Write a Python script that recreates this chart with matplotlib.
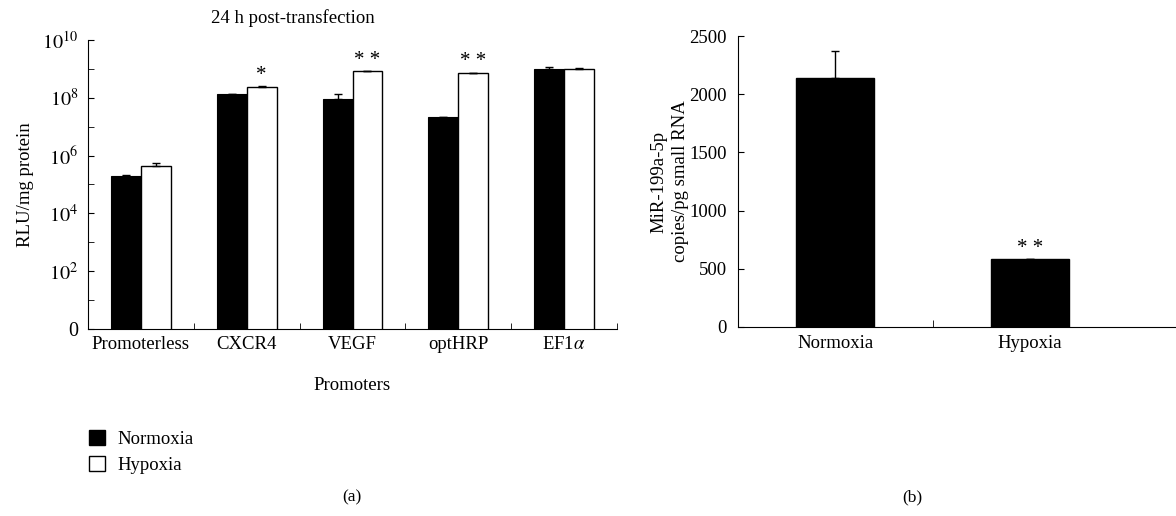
import numpy as np
import matplotlib
matplotlib.use("Agg")
import matplotlib.pyplot as plt
from matplotlib.patches import Patch
from matplotlib.ticker import FixedLocator, FixedFormatter

plt.rcParams['font.family'] = ['Liberation Serif', 'DejaVu Serif']
plt.rcParams['mathtext.fontset'] = 'stix'
plt.rcParams['font.size'] = 13.5

# panel (a): luciferase activity, RLU/mg protein
promoters = ['Promoterless', 'CXCR4', 'VEGF', 'optHRP', 'EF1$\\alpha$']
normoxia = [2.0e5, 1.3e8, 9.3e7, 2.1e7, 9.6e8]
normoxia_err = [0.1e5, 0.05e8, 3.7e7, 0.1e7, 1.6e8]
hypoxia = [4.4e5, 2.4e8, 8.3e8, 7.1e8, 1.0e9]
hypoxia_err = [1.0e5, 0.2e8, 0.2e8, 0.3e8, 0.05e9]
stars_a = ['', '*', '**', '**', '']

# panel (b): miR-199a-5p
conditions = ['Normoxia', 'Hypoxia']
mir = [2135, 580]
mir_err = [235, 8]
stars_b = ['', '**']

fs = 13.5
fig = plt.figure(figsize=(11.76, 5.16), dpi=100)

ax = fig.add_axes([0.0748, 0.3624, 0.4499, 0.5601])
x = np.arange(len(promoters))
w = 0.283
ax.bar(x - w / 2, normoxia, w, color='black', edgecolor='black', linewidth=0.8,
       yerr=[np.zeros(5), normoxia_err], error_kw=dict(ecolor='black', elinewidth=1, capsize=3, capthick=1))
ax.bar(x + w / 2, hypoxia, w, color='white', edgecolor='black', linewidth=1,
       yerr=[np.zeros(5), hypoxia_err], error_kw=dict(ecolor='black', elinewidth=1, capsize=3, capthick=1))
for i in range(len(promoters)):
    if stars_a[i]:
        ax.text(x[i] + w / 2, (hypoxia[i] + hypoxia_err[i]) * 1.1, ' '.join(stars_a[i]),
                ha='center', va='bottom', fontsize=15)
ax.set_yscale('log')
ax.set_ylim(1, 1e10)
ax.set_xlim(-0.5, 4.5)
ax.yaxis.set_major_locator(FixedLocator([1, 1e2, 1e4, 1e6, 1e8, 1e10]))
ax.yaxis.set_major_formatter(FixedFormatter(['0', '$10^{2}$', '$10^{4}$', '$10^{6}$', '$10^{8}$', '$10^{10}$']))
ax.yaxis.set_minor_locator(FixedLocator([1e1, 1e3, 1e5, 1e7, 1e9]))
ax.yaxis.set_minor_formatter(FixedFormatter([]))
ax.set_xticks(x)
ax.set_xticklabels(promoters)
ax.set_xticks(np.arange(0.5, 5, 1), minor=True)
ax.tick_params(axis='x', which='major', length=0, pad=5, labelsize=fs)
ax.tick_params(axis='x', which='minor', direction='in', length=4)
ax.tick_params(axis='y', which='both', direction='in', length=4, labelsize=fs + 1, pad=7)
for s in ['top', 'right']:
    ax.spines[s].set_visible(False)
ax.set_ylabel('RLU/mg protein', fontsize=fs, labelpad=6)
ax.set_xlabel('Promoters', fontsize=fs, labelpad=17)
fig.text(0.249, 0.965, '24 h post-transfection', ha='center', va='center', fontsize=fs)

handles = [Patch(facecolor='black', edgecolor='black'), Patch(facecolor='white', edgecolor='black')]
fig.legend(handles, ['Normoxia', 'Hypoxia'], loc='upper left', bbox_to_anchor=(0.061, 0.2),
           frameon=False, fontsize=fs, handlelength=0.85, handleheight=0.85, handletextpad=0.7,
           labelspacing=0.45)
fig.text(0.299, 0.037, '(a)', ha='center', va='center', fontsize=12.5)

bx = fig.add_axes([0.6276, 0.3663, 0.3724, 0.5639])
xb = np.arange(len(conditions))
bx.bar(xb, mir, 0.4, color='black', edgecolor='black',
       yerr=[np.zeros(2), mir_err], error_kw=dict(ecolor='black', elinewidth=1, capsize=3, capthick=1))
for i in range(len(conditions)):
    if stars_b[i]:
        bx.text(xb[i], mir[i] + mir_err[i] + 5, ' '.join(stars_b[i]), ha='center', va='bottom', fontsize=15)
bx.set_ylim(0, 2500)
bx.set_xlim(-0.5, 1.75)
bx.set_yticks([0, 500, 1000, 1500, 2000, 2500])
bx.set_xticks(xb)
bx.set_xticklabels(conditions)
bx.set_xticks([0.5], minor=True)
bx.tick_params(axis='x', which='major', length=0, pad=6, labelsize=fs)
bx.tick_params(axis='x', which='minor', direction='in', length=5)
bx.tick_params(axis='y', direction='in', length=4, labelsize=fs, pad=8)
for s in ['top', 'right']:
    bx.spines[s].set_visible(False)
bx.set_ylabel('MiR-199a-5p\ncopies/pg small RNA', fontsize=fs, labelpad=0, linespacing=1.4)
fig.text(0.776, 0.037, '(b)', ha='center', va='center', fontsize=12.5)

fig.savefig('out.png', dpi=100)
